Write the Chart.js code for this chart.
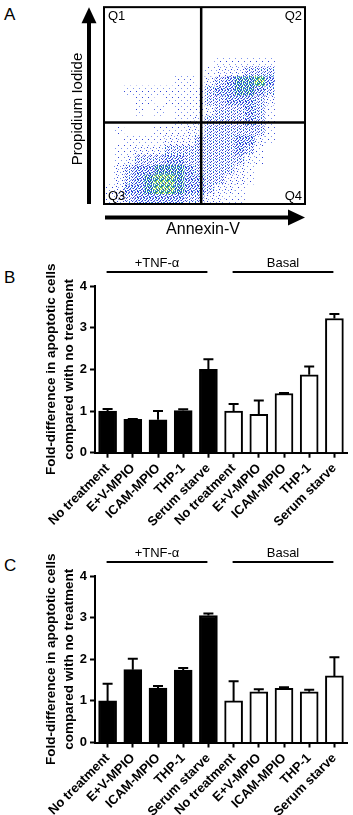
<!DOCTYPE html>
<html lang="en">
<head>
<meta charset="UTF-8">
<title>Apoptosis fold-difference</title>
<script src="https://cdn.jsdelivr.net/npm/chart.js"></script>
<style>
    body { margin: 0; background: #fff; width: 353px; height: 815px; position: relative; overflow: hidden; }
    canvas { position: absolute; left: 0; }
    .letra { position: absolute; left: 4px; font: 17px Arial, "Liberation Sans", sans-serif; color: #000; line-height: 20px; }
</style>
</head>
<body>
    <div class="letra" style="top:5px">A</div>
    <div class="letra" style="top:268px">B</div>
    <div class="letra" style="top:556px">C</div>

    <canvas id="chartA" width="353" height="248" style="top:0px"></canvas>
    <canvas id="chartB" width="353" height="290" style="top:248px"></canvas>
    <canvas id="chartC" width="353" height="277" style="top:538px"></canvas>

<script>
// ---- panel A: flow cytometry dot plot, density (20x20 cells, level 0-6) ----
const densityRows = [
    "00000000000000000000",
    "00000000000000000000",
    "00000000000000000000",
    "00000000000000000000",
    "00000000000000000000",
    "00000000000111111000",
    "00000000001222333000",
    "00000001102345564000",
    "00111111113445543000",
    "00011011113344432000",
    "00010101112333431000",
    "00000001123333431000",
    "01000111223333331000",
    "00111122233334421000",
    "01122233333334310000",
    "01233344333333210000",
    "02344555433332100000",
    "02345665443322100000",
    "12445665443221000000",
    "12344444332211000000"
];
const gateX = 9.67;
const gateY = 8.27;
const quadrantLabels = ['Q1', 'Q2', 'Q3', 'Q4'];

// ---- panels B and C ----
const categories = ['No treatment', 'E+V-MPIO', 'ICAM-MPIO', 'THP-1', 'Serum starve',
                    'No treatment', 'E+V-MPIO', 'ICAM-MPIO', 'THP-1', 'Serum starve'];
const groupNames = ['+TNF-\u03b1', 'Basal'];
const groupStart = [0, 5];
const groupEnd = [4, 9];

const valoresB = [1.0, 0.8, 0.79, 1.01, 2.0, 1.0, 0.92, 1.42, 1.87, 3.22];
const errosB   = [0.05, 0.01, 0.21, 0.03, 0.24, 0.17, 0.33, 0.01, 0.2, 0.11];

const valoresC = [1.0, 1.75, 1.31, 1.74, 3.05, 1.0, 1.22, 1.3, 1.22, 1.6];
const errosC   = [0.41, 0.26, 0.05, 0.05, 0.05, 0.47, 0.06, 0.03, 0.05, 0.45];

const yTicks = [0, 1, 2, 3, 4];

const fonte = 'Arial, "Liberation Sans", sans-serif';

// speckle textures used to fill each density level (style only)
const tintas = { b: '#2c3fd6', l: '#7c94ee', c: '#26a6d2', g: '#3fbf62', y: '#d6e63a' };
const texturas = [
    null,
    ["......", "....b.", "......", "......", ".l....", "......"],
    ["..b...", "....l.", "......", "...b..", "l.....", "......"],
    ["b...l.", "...b..", ".l...b", "b..c..", "...b..", ".b...l"],
    ["b.lb..", "..b..c", "lb..b.", "...bl.", ".cb..b", "b..l.b"],
    ["bc.gb.", "g.b.bc", ".bg..b", "cb.gb.", ".g.bcb", "lb.c.g"],
    ["gy.cgb", "y.g.gc", "c.yb.y", "gb.gy.", ".gby.c", "bc.g.g"]
];

function criarTextura(linhas) {
    const tile = document.createElement('canvas');
    tile.width = linhas[0].length;
    tile.height = linhas.length;
    const t = tile.getContext('2d');
    t.fillStyle = '#fff';
    t.fillRect(0, 0, tile.width, tile.height);
    for (let r = 0; r < linhas.length; r++) {
        for (let c = 0; c < linhas[r].length; c++) {
            const k = linhas[r][c];
            if (tintas[k]) {
                t.fillStyle = tintas[k];
                t.fillRect(c, r, 1, 1);
            }
        }
    }
    return document.getElementById('chartA').getContext('2d').createPattern(tile, 'repeat');
}

// builds the density cells for panel A
function montarDensidade() {
    let sets = [];
    for (let nivel = 1; nivel < texturas.length; nivel++) {
        let pts = [];
        for (let r = 0; r < densityRows.length; r++) {
            for (let c = 0; c < densityRows[r].length; c++) {
                if (Number(densityRows[r][c]) === nivel) {
                    pts.push({ x: c + 0.5, y: 19.5 - r });
                }
            }
        }
        sets.push({
            type: 'scatter',
            data: pts,
            pointStyle: 'rect',
            pointRadius: 7.15,
            pointBorderWidth: 0,
            backgroundColor: criarTextura(texturas[nivel]),
            order: 2
        });
    }
    return sets;
}

const moldura = {
    id: 'moldura',
    afterDraw(chart) {
        const ctx = chart.ctx;
        const a = chart.chartArea;
        ctx.save();
        ctx.strokeStyle = '#000';
        ctx.fillStyle = '#000';
        ctx.lineWidth = 2;
        ctx.strokeRect(a.left, a.top, a.right - a.left, a.bottom - a.top);

        // y arrow
        ctx.fillRect(87, a.top + 14, 4, a.bottom - a.top - 14);
        ctx.beginPath();
        ctx.moveTo(89, a.top);
        ctx.lineTo(81.5, a.top + 16);
        ctx.lineTo(96.5, a.top + 16);
        ctx.closePath();
        ctx.fill();

        // x arrow
        ctx.fillRect(a.left + 1, 215.5, a.right - a.left - 16, 4);
        ctx.beginPath();
        ctx.moveTo(a.right, 217.5);
        ctx.lineTo(a.right - 17, 209.5);
        ctx.lineTo(a.right - 17, 225.5);
        ctx.closePath();
        ctx.fill();

        ctx.font = '13px ' + fonte;
        ctx.textBaseline = 'middle';
        ctx.textAlign = 'left';
        ctx.fillText(quadrantLabels[0], a.left + 4, a.top + 9);
        ctx.fillText(quadrantLabels[2], a.left + 4, a.bottom - 8);
        ctx.textAlign = 'right';
        ctx.fillText(quadrantLabels[1], a.right - 3, a.top + 9);
        ctx.fillText(quadrantLabels[3], a.right - 3, a.bottom - 8);

        ctx.font = '16px ' + fonte;
        ctx.textAlign = 'center';
        ctx.fillText('Annexin-V', 203, 230);

        ctx.translate(78, 109);
        ctx.rotate(-Math.PI / 2);
        ctx.font = '15px ' + fonte;
        ctx.fillText('Propidium Iodide', 0, 0);
        ctx.restore();
    }
};

new Chart(document.getElementById('chartA'), {
    data: {
        datasets: [
            {
                type: 'scatter', showLine: true, data: [{ x: gateX, y: 0 }, { x: gateX, y: 20 }],
                borderColor: '#000', borderWidth: 2.5, pointRadius: 0, order: 0
            },
            {
                type: 'scatter', showLine: true, data: [{ x: 0, y: gateY }, { x: 20, y: gateY }],
                borderColor: '#000', borderWidth: 2.5, pointRadius: 0, order: 0
            }
        ].concat(montarDensidade())
    },
    options: {
        responsive: false,
        animation: false,
        layout: { padding: { left: 104, right: 48, top: 5, bottom: 44 } },
        scales: {
            x: { type: 'linear', min: 0, max: 20, display: false },
            y: { type: 'linear', min: 0, max: 20, display: false }
        },
        plugins: { legend: { display: false }, tooltip: { enabled: false } }
    },
    plugins: [moldura]
});

// error bars (upper only) and the group bars above the plot
const barrasErro = {
    id: 'barrasErro',
    afterDatasetsDraw(chart) {
        const ctx = chart.ctx;
        const ds = chart.data.datasets[0];
        const y = chart.scales.y;
        ctx.save();
        ctx.strokeStyle = '#000';
        ctx.lineWidth = 2;
        chart.getDatasetMeta(0).data.forEach(function (bar, i) {
            const topo = y.getPixelForValue(ds.data[i]);
            const fim = y.getPixelForValue(ds.data[i] + ds.erros[i]);
            ctx.beginPath();
            ctx.moveTo(bar.x, topo);
            ctx.lineTo(bar.x, fim);
            ctx.moveTo(bar.x - 5, fim);
            ctx.lineTo(bar.x + 5, fim);
            ctx.stroke();
        });
        ctx.restore();
    },
    afterDraw(chart) {
        const ctx = chart.ctx;
        const x = chart.scales.x;
        const topo = chart.chartArea.top;
        ctx.save();
        ctx.strokeStyle = '#000';
        ctx.fillStyle = '#000';
        ctx.lineWidth = 2;
        ctx.font = '13px ' + fonte;
        ctx.textAlign = 'center';
        ctx.textBaseline = 'middle';
        for (let g = 0; g < groupNames.length; g++) {
            const x0 = x.getPixelForValue(groupStart[g]) - 1;
            const x1 = x.getPixelForValue(groupEnd[g]) - 1;
            ctx.beginPath();
            ctx.moveTo(x0, topo - 14);
            ctx.lineTo(x1, topo - 14);
            ctx.stroke();
            ctx.fillText(groupNames[g], (x0 + x1) / 2, topo - 23);
        }
        ctx.restore();
    }
};

function plotarBarras(id, valores, erros, alturaEixoX) {
    const cores = categories.map(function (c, i) { return i < 5 ? '#000' : '#fff'; });
    new Chart(document.getElementById(id), {
        type: 'bar',
        data: {
            labels: categories,
            datasets: [{
                data: valores,
                erros: erros,
                backgroundColor: cores,
                borderColor: '#000',
                borderWidth: 2,
                borderSkipped: 'bottom',
                barThickness: 18
            }]
        },
        options: {
            responsive: false,
            animation: false,
            layout: { padding: { left: 0, right: 6, top: 38, bottom: 0 } },
            scales: {
                x: {
                    type: 'category',
                    offset: true,
                    grid: { offset: false, drawOnChartArea: false, tickLength: 5, tickWidth: 2, tickColor: '#000' },
                    border: { color: '#000', width: 2 },
                    ticks: {
                        autoSkip: false, minRotation: 45, maxRotation: 45, padding: 3,
                        color: '#000', font: { family: fonte, size: 13, weight: 'bold' }
                    },
                    afterFit: function (s) { s.height = alturaEixoX; }
                },
                y: {
                    min: 0, max: 4,
                    afterBuildTicks: function (s) { s.ticks = yTicks.map(function (v) { return { value: v }; }); },
                    grid: { drawOnChartArea: false, tickLength: 5, tickWidth: 2, tickColor: '#000' },
                    border: { color: '#000', width: 2 },
                    ticks: { padding: 3, color: '#000', font: { family: fonte, size: 13, weight: 'bold' } },
                    title: {
                        display: true,
                        text: ['Fold-difference in apoptotic cells', 'compared with no treatment'],
                        color: '#000',
                        font: { family: fonte, size: 13.5, weight: 'bold', lineHeight: 1.33 },
                        padding: { top: 42, bottom: 0 }
                    },
                    afterFit: function (s) { s.width = 95; }
                }
            },
            plugins: { legend: { display: false }, tooltip: { enabled: false } }
        },
        plugins: [barrasErro]
    });
}

plotarBarras('chartB', valoresB, errosB, 85.3);
plotarBarras('chartC', valoresC, errosC, 72.5);
</script>
</body>
</html>
